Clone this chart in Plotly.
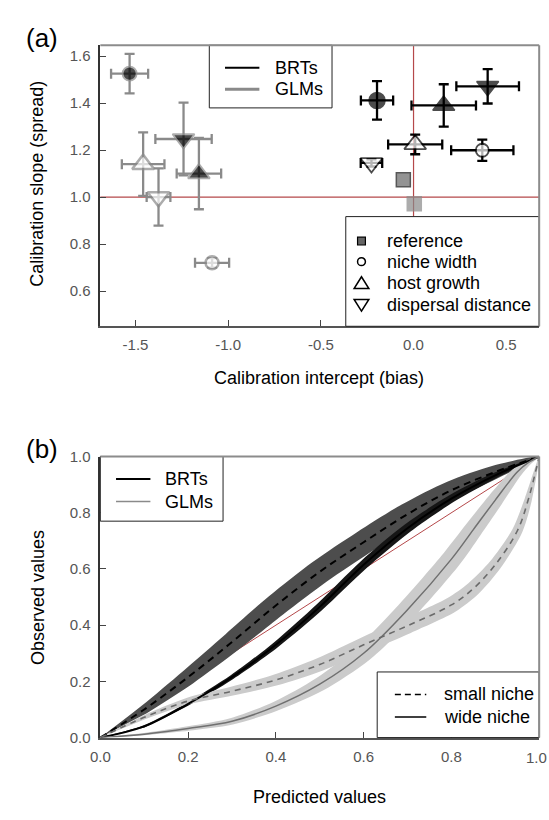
import numpy as np
import plotly.graph_objects as go

FONT = "Liberation Sans, Arial, sans-serif"

# ---------------- panel (a): calibration bias vs spread ----------------
scenario = ["reference", "niche width", "niche width", "host growth", "host growth",
            "dispersal distance", "dispersal distance"]
level = ["base", "low", "high", "low", "high", "low", "high"]

brt_bias = [-0.055, 0.371, -0.197, 0.009, 0.163, -0.227, 0.400]
brt_bias_err = [0.0, 0.168, 0.087, 0.146, 0.174, 0.058, 0.169]
brt_spread = [1.074, 1.199, 1.411, 1.224, 1.390, 1.145, 1.471]
brt_spread_err = [0.0, 0.045, 0.082, 0.042, 0.090, 0.015, 0.073]

glm_bias = [0.004, -1.087, -1.532, -1.459, -1.158, -1.376, -1.241]
glm_bias_err = [0.0, 0.092, 0.100, 0.115, 0.120, 0.064, 0.152]
glm_spread = [0.971, 0.720, 1.525, 1.140, 1.100, 1.000, 1.247]
glm_spread_err = [0.0, 0.020, 0.084, 0.135, 0.152, 0.122, 0.155]

bias_ref = 0.0
spread_ref = 1.0
a_xticks = [-1.5, -1.0, -0.5, 0.0, 0.5]
a_xticklabels = ["-1.5", "-1.0", "-0.5", "0.0", "0.5"]
a_yticks = [0.6, 0.8, 1.0, 1.2, 1.4, 1.6]
a_yticklabels = ["0.6", "0.8", "1.0", "1.2", "1.4", "1.6"]

# ---------------- panel (b): calibration curves ----------------
brt_pred = [0.0, 0.1, 0.2, 0.3, 0.4, 0.5, 0.6, 0.7, 0.8, 0.9, 1.0]
brt_small = [0.0, 0.10, 0.215, 0.34, 0.47, 0.59, 0.695, 0.795, 0.88, 0.945, 1.0]
brt_small_hw = [0.0, 0.016, 0.028, 0.036, 0.041, 0.043, 0.043, 0.040, 0.034, 0.024, 0.0]
brt_wide = [0.0, 0.04, 0.12, 0.215, 0.33, 0.465, 0.615, 0.745, 0.85, 0.933, 1.0]
brt_wide_hw = [0.0, 0.004, 0.006, 0.008, 0.011, 0.014, 0.016, 0.016, 0.014, 0.01, 0.0]

glm_pred = [0.0, 0.1, 0.2, 0.3, 0.4, 0.5, 0.6, 0.7, 0.8, 0.85, 0.9, 0.95, 0.975, 1.0]
glm_small = [0.0, 0.072, 0.13, 0.165, 0.205, 0.26, 0.33, 0.398, 0.472, 0.53, 0.615, 0.735, 0.846, 1.0]
glm_small_hw = [0.0, 0.007, 0.012, 0.016, 0.02, 0.024, 0.027, 0.028, 0.028, 0.026, 0.022, 0.018, 0.013, 0.0]
glm_wide = [0.0, 0.012, 0.032, 0.058, 0.112, 0.19, 0.30, 0.455, 0.635, 0.74, 0.845, 0.945, 0.978, 1.0]
glm_wide_hw = [0.0, 0.004, 0.008, 0.012, 0.017, 0.025, 0.031, 0.035, 0.035, 0.032, 0.027, 0.018, 0.01, 0.0]

identity = [0.0, 1.0]
b_ticks = [0.0, 0.2, 0.4, 0.6, 0.8, 1.0]
b_ticklabels = ["0.0", "0.2", "0.4", "0.6", "0.8", "1.0"]

# ---------------- page geometry (pixels) ----------------
W, H = 549, 820
PL, PR = 92, 539
A_TOP, A_BOT = 37, 324
B_TOP, B_BOT = 457, 744


def px(x):
    return x / W


def py(y):
    return 1 - y / H


GLM_GREY = "#8a8a8a"
AXIS_DARK = "#333333"
FRAME_GREY = "#8c8c8c"
RED = "#b5484a"

symbol_for = {"reference": "square", "niche width": "circle",
              "host growth": "triangle-up", "dispersal distance": "triangle-down"}


def point_styles(edge, ref_fill, ref_edge, circle_big, circle_small, lw_open, lw_filled):
    symbols, sizes, fills, edges, widths = [], [], [], [], []
    for sc, lv in zip(scenario, level):
        symbols.append(symbol_for[sc])
        if sc == "reference":
            sizes.append(14)
            fills.append(ref_fill)
            edges.append(ref_edge)
            widths.append(1.5)
            continue
        filled = lv == "high"
        if sc == "niche width":
            sizes.append(circle_big if filled else circle_small)
        else:
            sizes.append(19)
        fills.append("black" if filled else "white")
        edges.append(edge)
        widths.append(lw_filled if filled else lw_open)
    return symbols, sizes, fills, edges, widths


fig = go.Figure()

# panel (a): error bars first, markers drawn on top of them
models = [
    (glm_bias, glm_bias_err, glm_spread, glm_spread_err, GLM_GREY, GLM_GREY, GLM_GREY, 2.5, 1.8, 14, 13),
    (brt_bias, brt_bias_err, brt_spread, brt_spread_err, "black", "#666666", "#111111", 1.8, 1.5, 16, 13),
]
for bias, berr, spread, serr, edge, ref_fill, ref_edge, lwo, lwf, big, small in models:
    keep = [i for i, sc in enumerate(scenario) if sc != "reference"]
    fig.add_trace(go.Scatter(
        x=[bias[i] for i in keep], y=[spread[i] for i in keep],
        mode="markers", showlegend=False, hoverinfo="skip", xaxis="x", yaxis="y",
        marker=dict(size=2, color="rgba(0,0,0,0)"),
        error_x=dict(type="data", array=[berr[i] for i in keep], color=edge, thickness=2.3, width=5),
        error_y=dict(type="data", array=[serr[i] for i in keep], color=edge, thickness=2.3, width=5),
    ))
for bias, berr, spread, serr, edge, ref_fill, ref_edge, lwo, lwf, big, small in models:
    sym, siz, fil, edg, wid = point_styles(edge, ref_fill, ref_edge, big, small, lwo, lwf)
    fig.add_trace(go.Scatter(
        x=bias, y=spread, mode="markers", showlegend=False, xaxis="x", yaxis="y",
        marker=dict(symbol=sym, size=siz, color=fil, line=dict(color=edg, width=wid)),
    ))


def band_polygon(xv, yv, hw, aspect):
    x = np.asarray(xv, float)
    y = np.asarray(yv, float)
    h = np.asarray(hw, float)
    xs = x * aspect
    dx = np.gradient(xs)
    dy = np.gradient(y)
    nrm = np.hypot(dx, dy)
    nx, ny = -dy / nrm, dx / nrm
    ux, uy = (xs + h * nx) / aspect, y + h * ny
    lx, ly = (xs - h * nx) / aspect, y - h * ny
    return (np.concatenate([ux, lx[-2:0:-1]]), np.concatenate([uy, ly[-2:0:-1]]))


ASPECT = (PR - PL) / (B_BOT - B_TOP)

# panel (b) bands and curves: BRTs first, GLMs on top
curves = [
    (brt_pred, brt_small, brt_small_hw, "#4d4d4d", "black", 2.0, "7px,5px"),
    (brt_pred, brt_wide, brt_wide_hw, "#161616", "black", 2.0, "solid"),
    (glm_pred, glm_wide, glm_wide_hw, "#cbcbcb", "#707070", 1.5, "solid"),
    (glm_pred, glm_small, glm_small_hw, "#cbcbcb", "#6a6a6a", 1.6, "6px,5px"),
]
for xv, yv, hw, band_col, _, _, _ in curves:
    bx, by = band_polygon(xv, yv, hw, ASPECT)
    fig.add_trace(go.Scatter(x=bx, y=by, mode="lines", fill="toself", fillcolor=band_col,
                             line=dict(width=0, color=band_col, shape="spline", smoothing=0.8),
                             hoverinfo="skip", showlegend=False, xaxis="x2", yaxis="y2"))
for xv, yv, hw, _, line_col, lw, dash in curves:
    fig.add_trace(go.Scatter(x=xv, y=yv, mode="lines",
                             line=dict(color=line_col, width=lw, dash=dash, shape="spline"),
                             showlegend=False, xaxis="x2", yaxis="y2"))

tick_font = dict(family=FONT, size=15, color="#555555")
common_axis = dict(showgrid=False, zeroline=False, ticks="inside", ticklen=6, tickwidth=1,
                   tickcolor="#444444", tickfont=tick_font, showline=True)

x_dom = [px(PL), px(PR)]
fig.update_layout(
    width=W, height=H, margin=dict(l=0, r=0, t=0, b=0),
    paper_bgcolor="white", plot_bgcolor="white", showlegend=False,
    font=dict(family=FONT, color="black"),
    xaxis=dict(common_axis, domain=x_dom, anchor="y", range=[-1.69, 0.678],
               tickvals=a_xticks, ticktext=a_xticklabels, linecolor="#555555", linewidth=2,
               ticklabelstandoff=4),
    yaxis=dict(common_axis, domain=[py(A_BOT), py(A_TOP)], anchor="x", range=[0.45, 1.646],
               tickvals=a_yticks, ticktext=a_yticklabels, linecolor=AXIS_DARK, linewidth=1.5,
               ticklabelstandoff=5),
    xaxis2=dict(common_axis, domain=x_dom, anchor="y2", range=[0, 1],
                tickvals=b_ticks, ticktext=b_ticklabels, linecolor="#555555", linewidth=2,
                ticklabelstandoff=4),
    yaxis2=dict(common_axis, domain=[py(B_BOT), py(B_TOP)], anchor="x2", range=[0, 1],
                tickvals=b_ticks, ticktext=b_ticklabels, linecolor=AXIS_DARK, linewidth=1.5,
                ticklabelstandoff=5),
)

shapes = [
    # reference lines
    dict(type="line", xref="x", yref="y domain", x0=bias_ref, x1=bias_ref, y0=0, y1=1,
         line=dict(color=RED, width=1.2), layer="below"),
    dict(type="line", xref="x domain", yref="y", x0=0, x1=1, y0=spread_ref, y1=spread_ref,
         line=dict(color=RED, width=1.2), layer="below"),
    dict(type="line", xref="x2", yref="y2", x0=identity[0], x1=identity[1],
         y0=identity[0], y1=identity[1], line=dict(color=RED, width=1), layer="below"),
]
# key boxes
for x0, x1, y0, y1 in [(203, 328, A_TOP, 101), (342, PR, 212, A_BOT),
                       (PL, 217, B_TOP, 523), (374, PR, 677, B_BOT)]:
    shapes.append(dict(type="rect", xref="paper", yref="paper",
                       x0=px(x0), x1=px(x1), y0=py(y1), y1=py(y0),
                       line=dict(color="#222222", width=1), fillcolor="white", layer="above"))


def key_line(x0, x1, y, color, width, dash="solid"):
    return dict(type="line", xref="paper", yref="paper", x0=px(x0), x1=px(x1),
                y0=py(y), y1=py(y), line=dict(color=color, width=width, dash=dash), layer="above")


def key_triangle(cx, cy, w, h, up):
    tip, base = (cy - h * 0.55, cy + h * 0.45) if up else (cy + h * 0.55, cy - h * 0.45)
    path = "M{},{} L{},{} L{},{} Z".format(px(cx - w / 2), py(base), px(cx + w / 2), py(base),
                                            px(cx), py(tip))
    return dict(type="path", xref="paper", yref="paper", path=path, fillcolor="white",
                line=dict(color="black", width=1.5), layer="above")


# key glyphs
shapes += [
    key_line(219, 254, 60, "black", 2),
    key_line(219, 254, 82, GLM_GREY, 3),
    dict(type="rect", xref="paper", yref="paper", x0=px(354), x1=px(362), y0=py(241), y1=py(233),
         fillcolor="#666666", line=dict(color="black", width=1.2), layer="above"),
    dict(type="circle", xref="paper", yref="paper", x0=px(354), x1=px(362), y0=py(262), y1=py(254),
         fillcolor="white", line=dict(color="black", width=1.5), layer="above"),
    key_triangle(358, 280, 15, 12, True),
    key_triangle(358, 302, 15, 12, False),
    key_line(108, 143, 480, "black", 2),
    key_line(108, 143, 503, GLM_GREY, 1.5),
    key_line(392, 424, 700, "black", 1.5, "6px,4px"),
    key_line(392, 424, 723, "black", 1.5),
]
# top and right frame
for top, bot in [(A_TOP, A_BOT), (B_TOP, B_BOT)]:
    shapes.append(dict(type="line", xref="paper", yref="paper", x0=px(PL), x1=px(PR),
                       y0=py(top), y1=py(top), line=dict(color=FRAME_GREY, width=2), layer="above"))
    shapes.append(dict(type="line", xref="paper", yref="paper", x0=px(PR), x1=px(PR),
                       y0=py(top), y1=py(bot), line=dict(color=FRAME_GREY, width=2), layer="above"))
fig.update_layout(shapes=shapes)

title_font = dict(family=FONT, size=18, color="black")
key_font = dict(family=FONT, size=18, color="black")
annotations = [
    dict(text="(a)", x=px(33), y=py(30), font=dict(family=FONT, size=26, color="black")),
    dict(text="(b)", x=px(33), y=py(449), font=dict(family=FONT, size=26, color="black")),
    dict(text="Calibration slope (spread)", x=px(28), y=py(178), textangle=-90, font=title_font),
    dict(text="Calibration intercept (bias)", x=px(315), y=py(377), font=title_font),
    dict(text="Observed values", x=px(28), y=py(601), textangle=-90, font=title_font),
    dict(text="Predicted values", x=px(315), y=py(805), font=title_font),
    # last x tick label of panel (b), kept inside the page edge
    dict(text=b_ticklabels[-1], x=1.0, y=py(764), xanchor="right", font=tick_font),
]
for a in annotations:
    a.setdefault("xanchor", "center")
for label, x, y in [("BRTs", 268, 60), ("GLMs", 268, 82),
                    ("reference", 382, 237), ("niche width", 382, 258),
                    ("host growth", 382, 280), ("dispersal distance", 382, 302),
                    ("BRTs", 156, 480), ("GLMs", 156, 503),
                    ("small niche", 440, 700), ("wide niche", 440, 723)]:
    annotations.append(dict(text=label, x=px(x), y=py(y), xanchor="left", font=key_font))
for a in annotations:
    a.update(xref="paper", yref="paper", showarrow=False, yanchor="middle")
fig.update_layout(annotations=annotations)

fig.write_html("out.html")
